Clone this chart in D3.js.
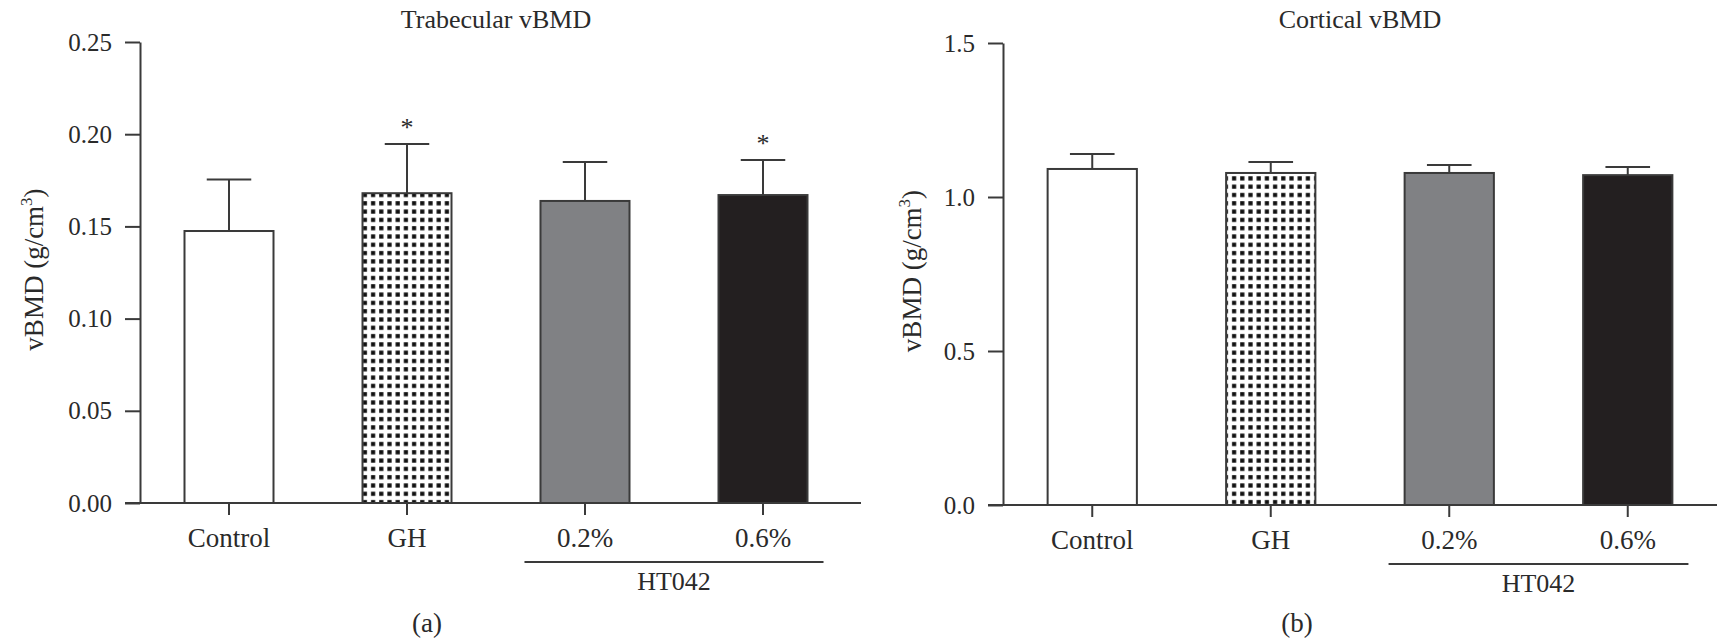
<!DOCTYPE html>
<html>
<head>
<meta charset="utf-8">
<script src="https://cdn.jsdelivr.net/npm/d3@7"></script>
<style>
  body { margin: 0; background: #fff; }
  svg text { font-family: "Liberation Serif", "Times New Roman", serif; fill: #2a2a2a; }
</style>
</head>
<body>
<svg id="chart" width="1717" height="643"></svg>
<script>
// groups on the x axis
const categories = ['Control', 'GH', '0.2%', '0.6%']
// trabecular vBMD (g/cm3), mean and SD
const trabMean = [0.1475, 0.168, 0.1638, 0.167]
const trabSD = [0.028, 0.0267, 0.0211, 0.019]
const trabSig = ['', '*', '', '*']
const trabTicks = [0.00, 0.05, 0.10, 0.15, 0.20, 0.25]
// cortical vBMD (g/cm3), mean and SD
const cortMean = [1.091, 1.078, 1.078, 1.071]
const cortSD = [0.049, 0.036, 0.026, 0.026]
const cortSig = ['', '', '', '']
const cortTicks = [0.0, 0.5, 1.0, 1.5]

const fills = ['#ffffff', 'url(#dots)', '#808184', '#231f20']
const stroke = '#3a3a3a'

const svg = d3.select('#chart')

// dotted fill for the GH bar
const pat = svg.append('defs').append('pattern')
  .attr('id', 'dots')
  .attr('patternUnits', 'userSpaceOnUse')
  .attr('width', 8.2)
  .attr('height', 8.3)
pat.append('rect').attr('width', 8.2).attr('height', 8.3).attr('fill', '#fff')
pat.append('rect').attr('x', 2).attr('y', 2).attr('width', 4.2).attr('height', 4.2).attr('fill', '#111')

function panel(opts) {
  const g = svg.append('g')
  const x = d3.scaleBand()
    .domain(categories)
    .range([opts.x0, opts.x1])
    .paddingInner(0.5)
    .paddingOuter(0.25)
  const y = d3.scaleLinear()
    .domain([opts.ticks[0], opts.ticks[opts.ticks.length - 1]])
    .range([opts.yBottom, opts.yTop])
  const bw = x.bandwidth()

  // title
  g.append('text')
    .attr('x', (opts.x0 + opts.x1) / 2)
    .attr('y', 28)
    .attr('text-anchor', 'middle')
    .style('font-size', '26px')
    .text(opts.title)

  // y axis
  const yAxis = g.append('g')
    .attr('transform', `translate(${opts.x0},0)`)
    .call(d3.axisLeft(y)
      .tickValues(opts.ticks)
      .tickFormat(d3.format(opts.fmt))
      .tickSize(15)
      .tickSizeOuter(0)
      .tickPadding(13))
  yAxis.selectAll('path, line').attr('stroke', stroke).attr('stroke-width', 2)
  yAxis.selectAll('text').style('font-size', '25px').attr('fill', '#2a2a2a')
  yAxis.attr('font-family', null)

  // y axis label
  const yl = g.append('text')
    .attr('transform', `translate(${opts.labelX},${(opts.yTop + opts.yBottom) / 2 - 3}) rotate(-90)`)
    .attr('text-anchor', 'middle')
    .style('font-size', '27px')
  yl.append('tspan').text('vBMD (g/cm')
  yl.append('tspan').attr('dy', -11).style('font-size', '17px').text('3')
  yl.append('tspan').attr('dy', 11).text(')')

  // bars
  g.selectAll('rect.bar')
    .data(categories)
    .enter()
    .append('rect')
    .attr('class', 'bar')
    .attr('x', (d) => x(d))
    .attr('y', (d, i) => y(opts.mean[i]))
    .attr('width', bw)
    .attr('height', (d, i) => y(0) - y(opts.mean[i]))
    .attr('fill', (d, i) => fills[i])
    .attr('stroke', stroke)
    .attr('stroke-width', 2)

  // error bars (upper only)
  const err = g.selectAll('g.err')
    .data(categories)
    .enter()
    .append('g')
    .attr('class', 'err')
    .attr('stroke', stroke)
    .attr('stroke-width', 2)
  err.append('line')
    .attr('x1', (d) => x(d) + bw / 2)
    .attr('x2', (d) => x(d) + bw / 2)
    .attr('y1', (d, i) => y(opts.mean[i]))
    .attr('y2', (d, i) => y(opts.mean[i] + opts.sd[i]))
  err.append('line')
    .attr('x1', (d) => x(d) + bw / 4)
    .attr('x2', (d) => x(d) + bw * 3 / 4)
    .attr('y1', (d, i) => y(opts.mean[i] + opts.sd[i]))
    .attr('y2', (d, i) => y(opts.mean[i] + opts.sd[i]))

  // significance stars
  g.selectAll('text.sig')
    .data(categories)
    .enter()
    .append('text')
    .attr('class', 'sig')
    .attr('x', (d) => x(d) + bw / 2)
    .attr('y', (d, i) => y(opts.mean[i] + opts.sd[i]) - 8)
    .attr('text-anchor', 'middle')
    .style('font-size', '26px')
    .text((d, i) => opts.sig[i])

  // x axis
  const xAxis = g.append('g')
    .attr('transform', `translate(0,${opts.yBottom})`)
    .call(d3.axisBottom(x).tickSize(12).tickSizeOuter(0).tickPadding(13))
  xAxis.select('.domain').remove()
  xAxis.selectAll('line').attr('stroke', stroke).attr('stroke-width', 2)
  xAxis.selectAll('text').style('font-size', '27px').attr('fill', '#2a2a2a')
  xAxis.attr('font-family', null)
  g.append('line')
    .attr('x1', opts.x0 - 15)
    .attr('x2', opts.xEnd)
    .attr('y1', opts.yBottom)
    .attr('y2', opts.yBottom)
    .attr('stroke', stroke)
    .attr('stroke-width', 2)

  // HT042 bracket under the two dose groups
  const bx1 = x('0.2%') + bw / 2 - bw * 0.68
  const bx2 = x('0.6%') + bw / 2 + bw * 0.68
  g.append('line')
    .attr('x1', bx1).attr('x2', bx2)
    .attr('y1', opts.yBottom + 59).attr('y2', opts.yBottom + 59)
    .attr('stroke', stroke)
    .attr('stroke-width', 2)
  g.append('text')
    .attr('x', (bx1 + bx2) / 2)
    .attr('y', opts.yBottom + 87)
    .attr('text-anchor', 'middle')
    .style('font-size', '26px')
    .text('HT042')

  // panel letter
  g.append('text')
    .attr('x', opts.letterX)
    .attr('y', 632)
    .attr('text-anchor', 'middle')
    .style('font-size', '27px')
    .text(opts.letter)
}

panel({
  title: 'Trabecular vBMD', letter: '(a)', letterX: 427,
  x0: 140, x1: 852, xEnd: 861, yTop: 42, yBottom: 503, labelX: 43,
  ticks: trabTicks, fmt: '.2f', mean: trabMean, sd: trabSD, sig: trabSig
})
panel({
  title: 'Cortical vBMD', letter: '(b)', letterX: 1297,
  x0: 1003, x1: 1717, xEnd: 1717, yTop: 43, yBottom: 505, labelX: 921,
  ticks: cortTicks, fmt: '.1f', mean: cortMean, sd: cortSD, sig: cortSig
})
</script>
</body>
</html>
